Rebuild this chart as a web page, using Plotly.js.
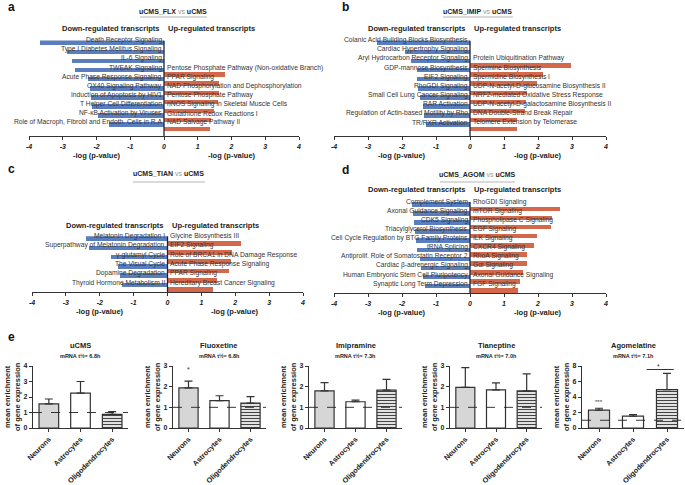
<!DOCTYPE html>
<html><head><meta charset="utf-8">
<script src="https://cdn.plot.ly/plotly-3.0.1.min.js"></script>
<style>html,body{margin:0;padding:0;background:#fff}#chart{width:685px;height:485px}</style>
</head><body><div id="chart"></div>
<script>
// ---------- DATA ----------
const aDownLabels = ['Death Receptor Signaling','Type I Diabetes Mellitus Signaling','IL-6 Signaling','TWEAK Signaling','Acute Phase Response Signaling','OX40 Signaling Pathway','Induction of Apoptosis by HIV1','T Helper Cell Differentiation','NF-κB Activation by Viruses','Role of Macroph, Fibrobl and Endoth. Cells in R.A'];
const aDownValues = [3.66,2.87,2.73,2.65,2.25,2.19,2.16,2.12,1.96,1.62];
const aUpLabels = ['Pentose Phosphate Pathway (Non-oxidative Branch)','PPAR Signaling','NAD Phosphorylation and Dephosphorylation','Pentose Phosphate Pathway','nNOS Signaling in Skeletal Muscle Cells','Glutathione Redox Reactions I','NAD Salvage Pathway II'];
const aUpValues = [1.80,1.62,1.64,1.61,1.47,1.39,1.37];

const bDownLabels = ['Colanic Acid Building Blocks Biosynthesis','Cardiac Hypertrophy Signaling','Aryl Hydrocarbon Receptor Signaling','GDP-mannose Biosynthesis','EIF2 Signaling','RhoGDI Signaling','Small Cell Lung Cancer Signaling','RAR Activation','Regulation of Actin-based Motility by Rho','TR/RXR Activation'];
const bDownValues = [2.73,1.91,1.75,1.55,1.55,1.52,1.47,1.39,1.35,1.30];
const bUpLabels = ['Protein Ubiquitination Pathway','Spermine Biosynthesis','Spermidine Biosynthesis I','UDP-N-acetyl-D-glucosamine Biosynthesis II','NRF2-mediated Oxidative Stress Response','UDP-N-acetyl-D-galactosamine Biosynthesis II','DNA Double-Strand Break Repair','Telomere Extension by Telomerase'];
const bUpValues = [2.96,2.16,1.98,1.67,1.65,1.62,1.37,1.37];

const cDownLabels = ['Melatonin Degradation I','Superpathway of Melatonin Degradation','γ-glutamyl Cycle','The Visual Cycle','Dopamine Degradation','Thyroid Hormone Metabolism II'];
const cDownValues = [2.40,2.33,1.67,1.47,1.39,1.35];
const cUpLabels = ['Glycine Biosynthesis III','EIF2 Signaling','Role of BRCA1 in DNA Damage Response','Acute Phase Response Signaling','PPAR Signaling','Hereditary Breast Cancer Signaling'];
const cUpValues = [2.18,1.91,1.86,1.81,1.47,1.35];

const dDownLabels = ['Complement System','Axonal Guidance Signaling','CDK5 Signaling','Triacylglycerol Biosynthesis','Cell Cycle Regulation by BTG Family Proteins','tRNA Splicing','Antiprolif. Role of Somatostatin Receptor 2','Cardiac β-adrenergic Signaling','Human Embryonic Stem Cell Pluripotency','Synaptic Long Term Depression'];
const dDownValues = [1.72,1.67,1.65,1.62,1.59,1.55,1.47,1.45,1.37,1.32];
const dUpLabels = ['RhoGDI Signaling','mTOR Signaling','Phospholipase C Signaling','EGF Signaling','ILK Signaling','CXCR4 Signaling','RhoA Signaling','Gαi Signaling','Axonal Guidance Signaling','FGF Signaling'];
const dUpValues = [2.65,2.40,2.38,1.98,1.88,1.69,1.67,1.55,1.47,1.42];

const pTicks = [-4,-3,-2,-1,0,1,2,3,4];

const eCellTypes = ['Neurons','Astrocytes','Oligodendrocytes'];
const eGroups = ['uCMS','Fluoxetine','Imipramine','Tianeptine','Agomelatine'];
const eHalfLives = ['6.8h','6.8h','7.3h','7.0h','7.1h'];
const uCMSMeans = [1.55,2.25,0.88];
const uCMSErr = [0.32,0.75,0.17];
const fluoxetineMeans = [1.94,1.32,1.20];
const fluoxetineErr = [0.33,0.24,0.32];
const imipramineMeans = [1.80,1.27,1.83];
const imipramineErr = [0.40,0.08,0.52];
const tianeptineMeans = [1.97,1.84,1.80];
const tianeptineErr = [0.95,0.34,0.82];
const agomelatineMeans = [2.30,1.52,4.95];
const agomelatineErr = [0.25,0.22,2.10];
const eYMax = [4,3,3,3,8];
const eYStep = [1,1,1,1,2];

// ---------- HELPERS ----------
const W=685,H=485;
const FONT='Liberation Sans, Arial, sans-serif';
const BLUE='#5a7ebd', RED='#d4684b';
const px=v=>v/W, py=v=>1-v/H;
const data=[], annotations=[], shapes=[];
const layout={width:W,height:H,margin:{l:0,r:0,t:0,b:0},showlegend:false,
  paper_bgcolor:'#fff',plot_bgcolor:'rgba(0,0,0,0)',font:{family:FONT,color:'#222'},
  bargap:0};

function txt(x,y,text,opt){
  annotations.push(Object.assign({xref:'paper',yref:'paper',x:px(x),y:py(y),text:text,showarrow:false,
    xanchor:'center',yanchor:'middle',font:{family:FONT,size:7,color:'#222'}},opt||{}));
}

// ---------- PATHWAY PANELS (a-d) ----------
const pathwayPanels=[
 {letter:'a',title:'uCMS_FLX',down:aDownLabels,downV:aDownValues,up:aUpLabels,upV:aUpValues,
  x0:29,x1:299,bottom:136,rowPx:9.1,pad:0.5,headerY:28,titleX:173,titleY:11,ul:[140,207,17],letterXY:[6,7]},
 {letter:'b',title:'uCMS_IMIP',down:bDownLabels,downV:bDownValues,up:bUpLabels,upV:bUpValues,
  x0:334,x1:606,bottom:136,rowPx:9.1,pad:0.5,headerY:28,titleX:478,titleY:11,ul:[443,513,17],letterXY:[340,7]},
 {letter:'c',title:'uCMS_TIAN',down:cDownLabels,downV:cDownValues,up:cUpLabels,upV:cUpValues,
  x0:32,x1:303,bottom:292,rowPx:9.3,pad:0,headerY:225,titleX:168,titleY:173,ul:[133,205,182],letterXY:[6,169]},
 {letter:'d',title:'uCMS_AGOM',down:dDownLabels,downV:dDownValues,up:dUpLabels,upV:dUpValues,
  x0:334,x1:606,bottom:293,rowPx:9.1,pad:0,headerY:190,titleX:477,titleY:174,ul:[440,515,182],letterXY:[340,170]}
];

pathwayPanels.forEach((p,i)=>{
  const k=i+1, xa='x'+(k===1?'':k), ya='y'+(k===1?'':k);
  const n=p.down.length;
  const yBottom=n-0.5+p.pad;
  const top=p.bottom-(n+p.pad)*p.rowPx;
  const downRows=p.down.map((_,j)=>j);
  const upRows=p.up.map((_,j)=>n-p.up.length+j);
  data.push({type:'bar',orientation:'h',x:p.downV.map(v=>-v),y:downRows,xaxis:xa,yaxis:ya,
    width:0.5,marker:{color:BLUE,line:{width:0}},hoverinfo:'skip'});
  data.push({type:'bar',orientation:'h',x:p.upV,y:upRows,xaxis:xa,yaxis:ya,
    width:0.5,marker:{color:RED,line:{width:0}},hoverinfo:'skip'});
  layout['xaxis'+(k===1?'':k)]={domain:[px(p.x0),px(p.x1)],anchor:ya,range:[-4,4],
    tickvals:pTicks,ticktext:pTicks.map(String),ticks:'outside',ticklen:3,tickcolor:'#333',
    showline:true,linecolor:'#333',linewidth:1.2,showgrid:false,zeroline:false,
    tickfont:{family:FONT,size:7,color:'#222',weight:'bold',style:'italic'}};
  layout['yaxis'+(k===1?'':k)]={domain:[py(p.bottom),py(top)],anchor:xa,range:[yBottom,-0.5],
    visible:false,fixedrange:true};
  shapes.push({type:'line',xref:xa,yref:ya,x0:0,x1:0,y0:-0.5,y1:yBottom,line:{color:'#1e2235',width:1.3},layer:'above'});
  p.down.forEach((t,j)=>annotations.push({xref:xa,yref:ya,x:0,y:downRows[j],text:t,showarrow:false,
    xanchor:'right',yanchor:'middle',xshift:-0.5,yshift:4.8,font:{family:FONT,size:6.7,color:'#333'}}));
  p.up.forEach((t,j)=>annotations.push({xref:xa,yref:ya,x:0,y:upRows[j],text:t,showarrow:false,
    xanchor:'left',yanchor:'middle',xshift:0.5,yshift:4.8,font:{family:FONT,size:6.7,color:'#333'}}));
  const zx=(p.x0+p.x1)/2, unit=(p.x1-p.x0)/8;
  txt(zx-2*unit,p.bottom+19,'<b>-log (p-value)</b>',{font:{family:FONT,size:7.5,color:'#222'}});
  txt(zx+2*unit,p.bottom+19,'<b>-log (p-value)</b>',{font:{family:FONT,size:7.5,color:'#222'}});
  txt(zx-2,p.headerY,'<b>Down-regulated transcripts</b>',{xanchor:'right',font:{family:FONT,size:7.5,color:'#222'}});
  txt(zx+2,p.headerY,'<b>Up-regulated transcripts</b>',{xanchor:'left',font:{family:FONT,size:7.5,color:'#222'}});
  txt(p.titleX,p.titleY,'<b>'+p.title+'</b> <span style="color:#999">vs</span> <b>uCMS</b>',{font:{family:FONT,size:7,color:'#222'}});
  shapes.push({type:'line',xref:'paper',yref:'paper',x0:px(p.ul[0]),x1:px(p.ul[1]),y0:py(p.ul[2]),y1:py(p.ul[2]),line:{color:'#b5b5b5',width:1.2}});
  txt(p.letterXY[0],p.letterXY[1],'<b>'+p.letter+'</b>',{xanchor:'left',font:{family:FONT,size:12,color:'#111'}});
});
txt(6,337,'<b>e</b>',{xanchor:'left',font:{family:FONT,size:12,color:'#111'}});

// ---------- PANEL e ----------
const eMeans=[uCMSMeans,fluoxetineMeans,imipramineMeans,tianeptineMeans,agomelatineMeans];
const eErrs=[uCMSErr,fluoxetineErr,imipramineErr,tianeptineErr,agomelatineErr];
const eDomains=[[33,128],[173,266],[309,402],[450,542],[582,684]];
const eTop=366, eBottom=428;
const eFill=['#d6d6d6','#ffffff','#e2e2e2'];
eGroups.forEach((g,i)=>{
  const k=i+5, xa='x'+k, ya='y'+k;
  data.push({type:'bar',x:eCellTypes,y:eMeans[i],xaxis:xa,yaxis:ya,width:0.62,hoverinfo:'skip',
    marker:{color:eFill,line:{color:'#333',width:1.2},
      pattern:{shape:['','','-'],fillmode:'overlay',fgcolor:'#a2a2a2',fgopacity:1,size:3,solidity:0.35}},
    error_y:{type:'data',symmetric:false,array:eErrs[i],arrayminus:[0,0,0],color:'#333',thickness:1.2,width:4}});
  const ticks=[];for(let v=0;v<=eYMax[i];v+=eYStep[i])ticks.push(v);
  layout['xaxis'+k]={domain:[px(eDomains[i][0]),px(eDomains[i][1])],anchor:ya,type:'category',range:[-0.5,2.5],
    showline:true,linecolor:'#333',linewidth:1.2,ticks:'outside',ticklen:3,tickcolor:'#333',tickangle:-45,
    ticklabeloverflow:'allow',automargin:false,
    showgrid:false,zeroline:false,tickfont:{family:FONT,size:7.3,color:'#222',weight:'bold'}};
  layout['yaxis'+k]={domain:[py(eBottom),py(eTop)],anchor:xa,range:[0,eYMax[i]],tickvals:ticks,
    showline:true,linecolor:'#333',linewidth:1.2,ticks:'outside',ticklen:3,tickcolor:'#333',
    showgrid:false,zeroline:false,tickfont:{family:FONT,size:7,color:'#222',weight:'bold'}};
  shapes.push({type:'line',xref:xa+' domain',yref:ya,x0:0,x1:1,y0:1,y1:1,layer:'above',
    line:{color:'#222',width:0.9,dash:'dash'}});
  const cx=(eDomains[i][0]+eDomains[i][1])/2;
  txt(cx,345,'<b>'+g+'</b>',{font:{family:FONT,size:7.5,color:'#222'}});
  txt(cx,356,'<b>mRNA t½= '+eHalfLives[i]+'</b>',{font:{family:FONT,size:5.5,color:'#222'}});
  txt(eDomains[i][0]-21,397,'<b>mean enrichment<br>of gene expression</b>',{textangle:-90,font:{family:FONT,size:7.5,color:'#222'}});
});
annotations.push({xref:'x6',yref:'y6',x:0,y:2.85,text:'*',showarrow:false,font:{family:FONT,size:7,color:'#333'}});
annotations.push({xref:'x9',yref:'y9',x:0,y:3.3,text:'***',showarrow:false,font:{family:FONT,size:6,color:'#333'}});
shapes.push({type:'line',xref:'x9',yref:'y9',x0:1.4,x1:2.2,y0:7.55,y1:7.55,line:{color:'#333',width:1}});
annotations.push({xref:'x9',yref:'y9',x:1.75,y:8.0,text:'*',showarrow:false,font:{family:FONT,size:7,color:'#333'}});

layout.annotations=annotations; layout.shapes=shapes;
Plotly.newPlot('chart',data,layout,{displayModeBar:false,staticPlot:true});
</script></body></html>
